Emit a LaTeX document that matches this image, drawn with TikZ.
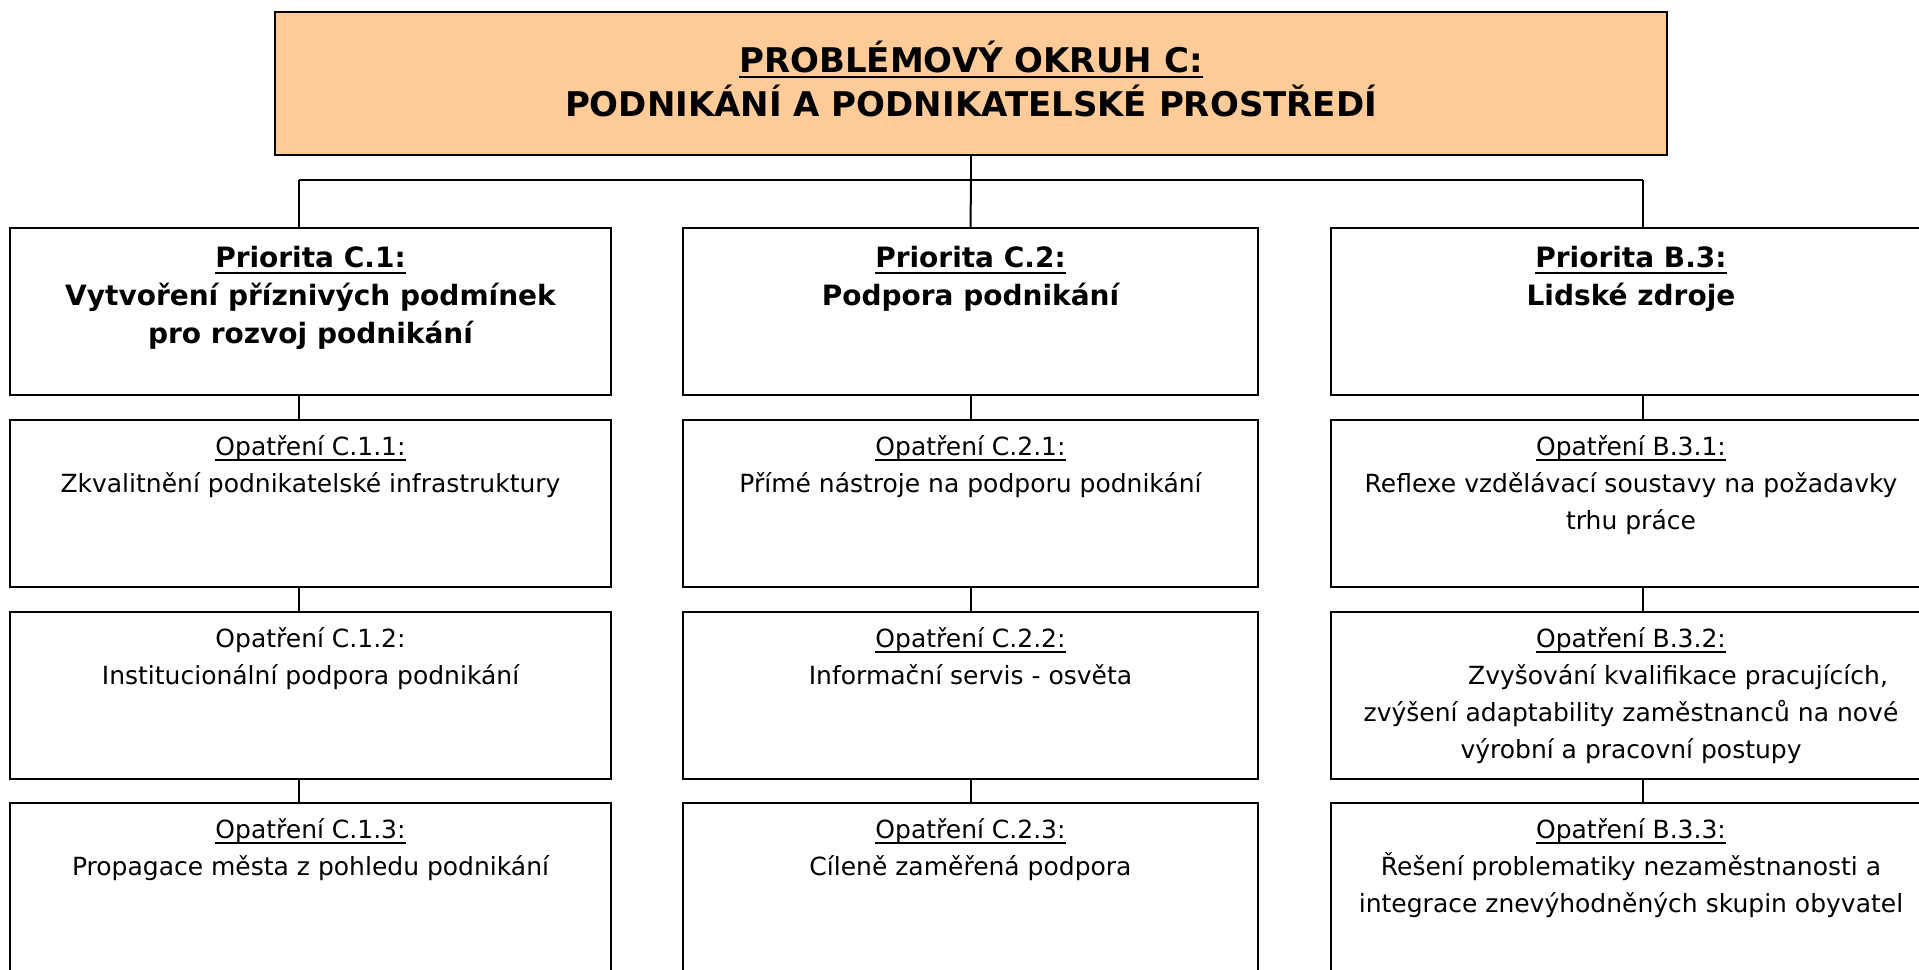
\documentclass[tikz,border=0pt]{standalone}
\usepackage{fontspec}
\setmainfont{DejaVu Sans}
\definecolor{peach}{RGB}{255,204,153}
\newcommand\ulin[1]{\setbox0\hbox{#1}\rlap{\rule[-6pt]{\wd0}{2pt}}\box0}
\tikzset{
  box/.style={draw, line width=2.5pt, inner sep=0pt, minimum height=167pt},
  conn/.style={line width=2pt},
  rtxt/.style={inner sep=0pt, align=center, anchor=north,
    font={\fontsize{25}{37}\selectfont}, execute at begin node={\rule{0pt}{22pt}}},
  ptxt/.style={inner sep=0pt, align=center, anchor=north,
    font={\bfseries\fontsize{28}{38}\selectfont}, execute at begin node={\rule{0pt}{24pt}}},
  htxt/.style={inner sep=0pt, align=center, anchor=north,
    font={\bfseries\fontsize{34}{44}\selectfont}, execute at begin node={\rule{0pt}{34pt}}},
}
\begin{document}
\begin{tikzpicture}[x=1pt,y=-1pt]
\useasboundingbox (0,0) rectangle (1919,969);
\fill[white] (0,0) rectangle (1919,969);
\clip (0,0) rectangle (1919,969);

% boxes
\node[box, fill=peach, minimum width=1392pt, minimum height=143pt] (hdr) at (971,83.5) {};
\node[box, minimum width=601pt] (p1) at (310.5,311.5) {};
\node[box, minimum width=575pt] (p2) at (970.5,311.5) {};
\node[box, minimum width=600pt] (p3) at (1631,311.5) {};
\node[box, minimum width=601pt] (o11) at (310.5,503.5) {};
\node[box, minimum width=575pt] (o21) at (970.5,503.5) {};
\node[box, minimum width=600pt] (o31) at (1631,503.5) {};
\node[box, minimum width=601pt] (o12) at (310.5,695.5) {};
\node[box, minimum width=575pt] (o22) at (970.5,695.5) {};
\node[box, minimum width=600pt] (o32) at (1631,695.5) {};
\node[box, minimum width=601pt, minimum height=175pt] (o13) at (310.5,890.5) {};
\node[box, minimum width=575pt, minimum height=175pt] (o23) at (970.5,890.5) {};
\node[box, minimum width=600pt, minimum height=175pt] (o33) at (1631,890.5) {};

% connectors
\coordinate (busL) at (299,180);
\coordinate (busR) at (1643,180);
\draw[conn] (hdr.south) -- (hdr.south |- busL);
\draw[conn] (busL) -- (busR);
\draw[conn] (busL) -- (p1.north -| busL);
\draw[conn] (hdr.south |- busL) -- (p2.north);
\draw[conn] (busR) -- (p3.north -| busR);
\draw[conn] (p1.south -| busL) -- (o11.north -| busL);
\draw[conn] (o11.south -| busL) -- (o12.north -| busL);
\draw[conn] (o12.south -| busL) -- (o13.north -| busL);
\draw[conn] (p2.south) -- (o21.north);
\draw[conn] (o21.south) -- (o22.north);
\draw[conn] (o22.south) -- (o23.north);
\draw[conn] (p3.south -| busR) -- (o31.north -| busR);
\draw[conn] (o31.south -| busR) -- (o32.north -| busR);
\draw[conn] (o32.south -| busR) -- (o33.north -| busR);

% texts
\node[htxt] (hdrt) at ([yshift=-30pt]hdr.north) {\ulin{PROBLÉMOVÝ OKRUH C:}\\PODNIKÁNÍ A PODNIKATELSKÉ PROSTŘEDÍ};
\node[ptxt] (p1t) at ([yshift=-19.5pt]p1.north) {\ulin{Priorita C.1:}\\Vytvoření příznivých podmínek\\pro rozvoj podnikání};
\node[ptxt] (p2t) at ([yshift=-19.5pt]p2.north) {\ulin{Priorita C.2:}\\Podpora podnikání};
\node[ptxt] (p3t) at ([yshift=-19.5pt]p3.north) {\ulin{Priorita B.3:}\\Lidské zdroje};
\node[rtxt] (o11t) at ([yshift=-16.3pt]o11.north) {\ulin{Opatření C.1.1:}\\Zkvalitnění podnikatelské infrastruktury};
\node[rtxt] (o12t) at ([yshift=-16.3pt]o12.north) {Opatření C.1.2:\\Institucionální podpora podnikání};
\node[rtxt] (o13t) at ([yshift=-16.3pt]o13.north) {\ulin{Opatření C.1.3:}\\Propagace města z pohledu podnikání};
\node[rtxt] (o21t) at ([yshift=-16.3pt]o21.north) {\ulin{Opatření C.2.1:}\\Přímé nástroje na podporu podnikání};
\node[rtxt] (o22t) at ([yshift=-16.3pt]o22.north) {\ulin{Opatření C.2.2:}\\Informační servis - osvěta};
\node[rtxt] (o23t) at ([yshift=-16.3pt]o23.north) {\ulin{Opatření C.2.3:}\\Cíleně zaměřená podpora};
\node[rtxt] (o31t) at ([yshift=-16.3pt]o31.north) {\ulin{Opatření B.3.1:}\\Reflexe vzdělávací soustavy na požadavky\\trhu práce};
\node[rtxt] (o32t) at ([yshift=-16.3pt]o32.north) {\ulin{Opatření B.3.2:}\\\hspace*{94pt}Zvyšování kvalifikace pracujících,\\zvýšení adaptability zaměstnanců na nové\\výrobní a pracovní postupy};
\node[rtxt] (o33t) at ([yshift=-16.3pt]o33.north) {\ulin{Opatření B.3.3:}\\Řešení problematiky nezaměstnanosti a\\integrace znevýhodněných skupin obyvatel};
\end{tikzpicture}
\end{document}
